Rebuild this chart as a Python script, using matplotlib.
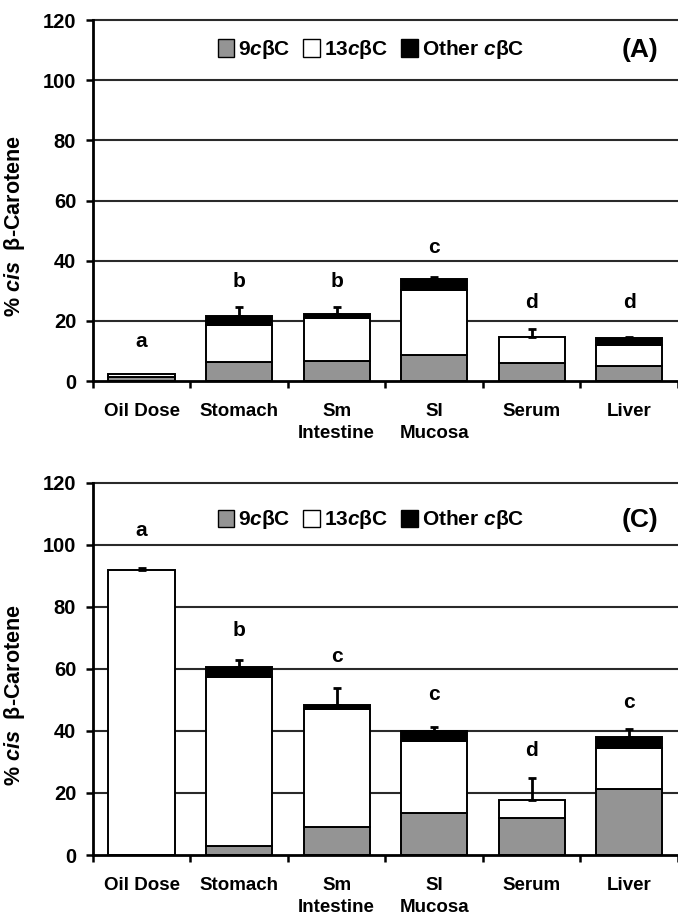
import matplotlib.pyplot as plt
from matplotlib.patches import Patch
import numpy as np

plt.rcParams['font.family'] = ['Liberation Sans', 'DejaVu Sans']
plt.rcParams['font.weight'] = 'bold'
plt.rcParams['mathtext.fontset'] = 'custom'
plt.rcParams['mathtext.it'] = 'Liberation Sans:bold:italic'
plt.rcParams['mathtext.rm'] = 'Liberation Sans:bold'

categories = ['Oil Dose', 'Stomach', 'Sm\nIntestine', 'SI\nMucosa', 'Serum', 'Liver']

# panel A
a_9c = [1.2, 6.4, 6.8, 8.5, 5.9, 5.0]
a_13c = [1.1, 12.2, 14.2, 21.7, 8.8, 7.0]
a_other = [0.0, 3.0, 1.3, 3.6, 0.0, 2.2]
a_err = [0.0, 2.9, 2.2, 0.9, 2.5, 0.4]
a_letters = ['a', 'b', 'b', 'c', 'd', 'd']
a_letter_y = [13, 33, 33, 44.5, 26, 26]

# panel C
c_9c = [0.0, 2.9, 9.1, 13.4, 11.8, 21.2]
c_13c = [92.0, 54.6, 38.1, 23.4, 5.9, 13.2]
c_other = [0.0, 3.0, 1.3, 3.3, 0.0, 3.7]
c_err = [0.4, 2.5, 5.2, 1.3, 7.0, 2.4]
c_letters = ['a', 'b', 'c', 'c', 'd', 'c']
c_letter_y = [104.7, 72.5, 64, 51.6, 33.8, 49.1]

gray = '#949494'


def draw_panel(ax, s9, s13, sother, err, letters, letter_y, tag, legend_y):
    x = np.arange(len(categories))
    s9 = np.array(s9)
    s13 = np.array(s13)
    sother = np.array(sother)
    for g in range(20, 121, 20):
        ax.axhline(g, color='#2a2a2a', lw=1.5, zorder=0, clip_on=False)
    w = 0.68
    ax.bar(x, s9, w, color=gray, edgecolor='black', lw=1.4, zorder=2)
    ax.bar(x, s13, w, bottom=s9, color='white', edgecolor='black', lw=1.4, zorder=2)
    oth = sother > 0
    ax.bar(x[oth], sother[oth], w, bottom=(s9 + s13)[oth], color='black',
           edgecolor='black', lw=1.4, zorder=2)
    tops = s9 + s13 + sother
    has = np.array(err) > 0
    ax.errorbar(x[has], tops[has], yerr=[np.zeros(has.sum()), np.array(err)[has]],
                fmt='none', ecolor='black', elinewidth=2, capsize=3, capthick=2, zorder=3)
    for xi, lab, ly in zip(x, letters, letter_y):
        ax.text(xi, ly, lab, ha='center', va='center', fontsize=15, fontweight='bold')

    ax.set_xlim(-0.5, 5.5)
    ax.set_ylim(0, 120)
    ax.set_yticks(range(0, 121, 20))
    ax.set_xticks(x)
    ax.set_xticklabels(categories, fontsize=13.5, fontweight='bold', linespacing=1.4)
    ax.set_xticks(np.arange(-0.5, 6, 1), minor=True)
    ax.tick_params(axis='x', which='major', length=0, pad=16)
    ax.tick_params(axis='x', which='minor', length=5, width=1.8, direction='out')
    ax.tick_params(axis='y', length=5, width=1.8, direction='out', labelsize=14.5, pad=7)
    for t in ax.get_yticklabels():
        t.set_fontweight('bold')
    for s in ['top', 'right']:
        ax.spines[s].set_visible(False)
    for s in ['left', 'bottom']:
        ax.spines[s].set_linewidth(2)
    ax.set_ylabel('% $\\it{cis}$  β-Carotene', fontsize=15.5, fontweight='bold')
    ax.yaxis.set_label_coords(-0.112, 0.43)

    handles = [Patch(facecolor=gray, edgecolor='black', lw=1),
               Patch(facecolor='white', edgecolor='black', lw=1),
               Patch(facecolor='black', edgecolor='black', lw=1)]
    labels = ['9$\\it{c}$βC', '13$\\it{c}$βC', 'Other $\\it{c}$βC']
    ax.legend(handles, labels, loc='center', bbox_to_anchor=(0.475, legend_y), ncol=3,
              frameon=False, handlelength=0.8, handleheight=0.9, handletextpad=0.2,
              columnspacing=0.6, prop={'weight': 'bold', 'size': 15})
    ax.text(0.935, legend_y, tag, transform=ax.transAxes, ha='center', va='center',
            fontsize=19, fontweight='bold')


fig = plt.figure(figsize=(6.78, 9.19), dpi=100)
ax1 = fig.add_axes([0.137, 0.5854, 0.863, 0.3928])
ax2 = fig.add_axes([0.137, 0.0696, 0.863, 0.4051])

draw_panel(ax1, a_9c, a_13c, a_other, a_err, a_letters, a_letter_y, '(A)', 0.918)
draw_panel(ax2, c_9c, c_13c, c_other, c_err, c_letters, c_letter_y, '(C)', 0.90)

fig.savefig('out.png', dpi=100)
